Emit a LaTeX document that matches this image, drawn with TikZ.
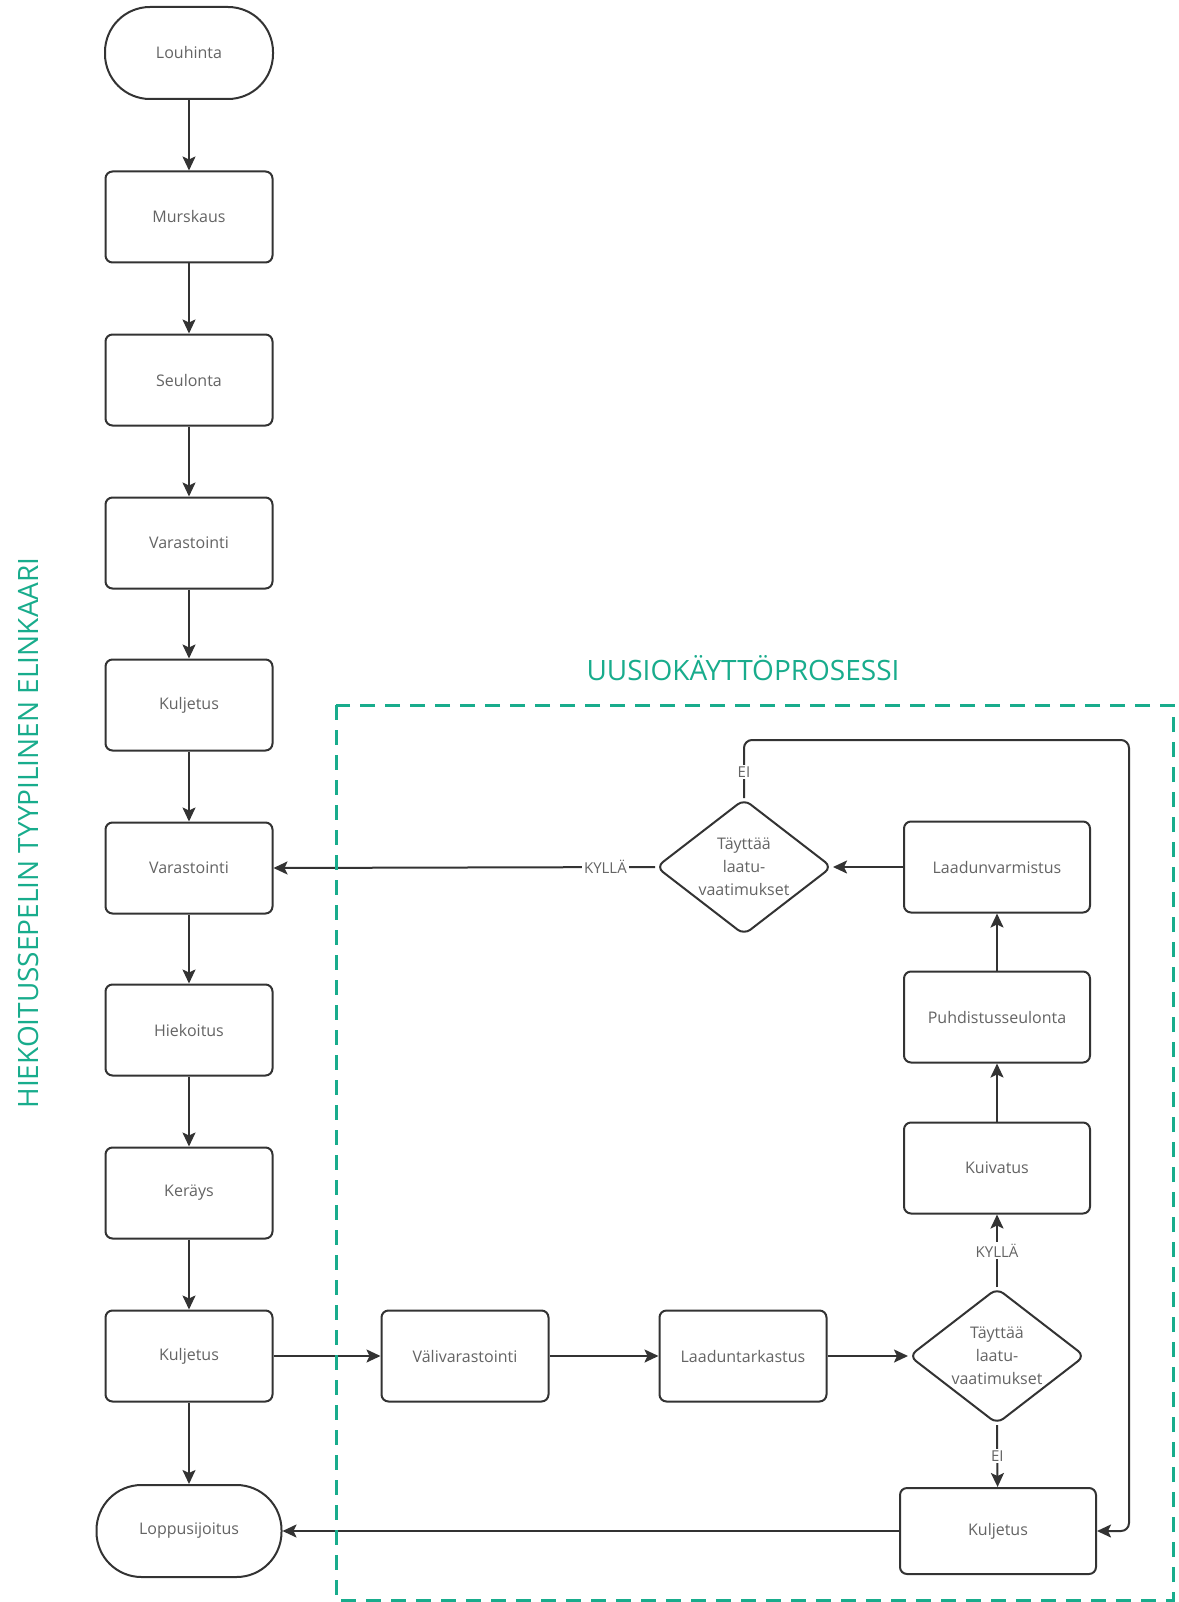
\documentclass[tikz,border=0pt]{standalone}
\usepackage{fontspec}
\setmainfont{Open Sans}
\usetikzlibrary{shapes.geometric,arrows.meta}
\definecolor{ln}{RGB}{51,51,51}
\definecolor{tx}{RGB}{100,100,100}
\definecolor{gr}{RGB}{24,172,140}
\tikzset{
 box/.style={draw=ln,line width=2pt,rounded corners=7pt,minimum width=167pt,minimum height=91pt,inner sep=0pt,font=\fontsize{16}{23}\selectfont,text=tx,align=center},
 term/.style={box,rounded corners=45pt},
 dia/.style={draw=ln,line width=2pt,diamond,rounded corners=8pt,minimum width=176pt,minimum height=136pt,inner sep=0pt},
 dtext/.style={font=\fontsize{16}{23}\selectfont,text=tx,align=center,inner sep=0pt},
 arr/.style={draw=ln,line width=2pt,-{Stealth[length=14pt,width=13pt,inset=3pt]}},
 lbl/.style={fill=white,text=tx,font=\fontsize{15}{17}\selectfont,inner sep=2pt},
 heading/.style={text=gr,font=\fontsize{28}{32}\selectfont,inner sep=0pt},
}
\begin{document}
\begin{tikzpicture}[x=1pt,y=-1pt]
\useasboundingbox[fill=white] (0,0) rectangle (1178,1602);
% left column
\node[term,minimum width=168pt,minimum height=92pt] (louh) at (189,53) {Louhinta};
\node[box] (mur) at (189,217) {Murskaus};
\node[box] (seu) at (189,380) {Seulonta};
\node[box] (var1) at (189,543) {Varastointi};
\node[box] (kul1) at (189,705) {Kuljetus};
\node[box] (var2) at (189,868) {Varastointi};
\node[box] (hiek) at (189,1030) {Hiekoitus};
\node[box] (ker) at (189,1193) {Keräys};
\node[box] (kul2) at (189,1356) {Kuljetus};
\node[term,minimum width=185pt,minimum height=92pt] (loppu) at (189,1531) {Loppusijoitus};
% right part
\node[box] (vali) at (465,1356) {Välivarastointi};
\node[box] (ltark) at (743,1356) {Laaduntarkastus};
\node[dia] (d2) at (997,1356) {};
\node[dtext] (d2t) at (d2) {Täyttää\\laatu-\\vaatimukset};
\node[box,minimum width=186pt] (kuiv) at (997,1168) {Kuivatus};
\node[box,minimum width=186pt] (puh) at (997,1017) {Puhdistusseulonta};
\node[box,minimum width=186pt] (lvar) at (997,867) {Laadunvarmistus};
\node[dia] (d1) at (744,867) {};
\node[dtext] (d1t) at (d1) {Täyttää\\laatu-\\vaatimukset};
\node[box,minimum width=196pt,minimum height=86pt] (kul3) at (998,1531) {Kuljetus};
\coordinate (loopTR) at (1129,740);
% connectors left column
\draw[arr] (louh) -- (mur);
\draw[arr] (mur) -- (seu);
\draw[arr] (seu) -- (var1);
\draw[arr] (var1) -- (kul1);
\draw[arr] (kul1) -- (var2);
\draw[arr] (var2) -- (hiek);
\draw[arr] (hiek) -- (ker);
\draw[arr] (ker) -- (kul2);
\draw[arr] (kul2) -- (loppu);
% connectors right part
\draw[arr] (kul2) -- (vali);
\draw[arr] (vali) -- (ltark);
\draw[arr] (ltark) -- (d2.west);
\draw[arr] (d2.north) -- node[lbl] (ky2) {KYLLÄ} (kuiv);
\draw[arr] (d2.south) -- node[lbl] (ei2) {EI} (kul3);
\draw[arr] (kuiv) -- (puh);
\draw[arr] (puh) -- (lvar);
\draw[arr] (lvar) -- (d1.east);
\draw[arr] (d1.west) -- node[lbl,pos=0.13] (ky1) {KYLLÄ} (var2.east);
\draw[arr,rounded corners=8pt] (d1.north) |- (loopTR) |- (kul3.east);
\node[lbl] (ei1) at (744,772) {EI};
\draw[arr] (kul3) -- (loppu);
% frame and headings
\draw[gr,line width=3pt,dash pattern=on 15pt off 10pt] (336,705) rectangle (1173,1600);
\node[heading] (t1) at (743,668) {UUSIOKÄYTTÖPROSESSI};
\node[heading,rotate=90] (t2) at (28,833) {HIEKOITUSSEPELIN TYYPILINEN ELINKAARI};
\end{tikzpicture}
\end{document}
